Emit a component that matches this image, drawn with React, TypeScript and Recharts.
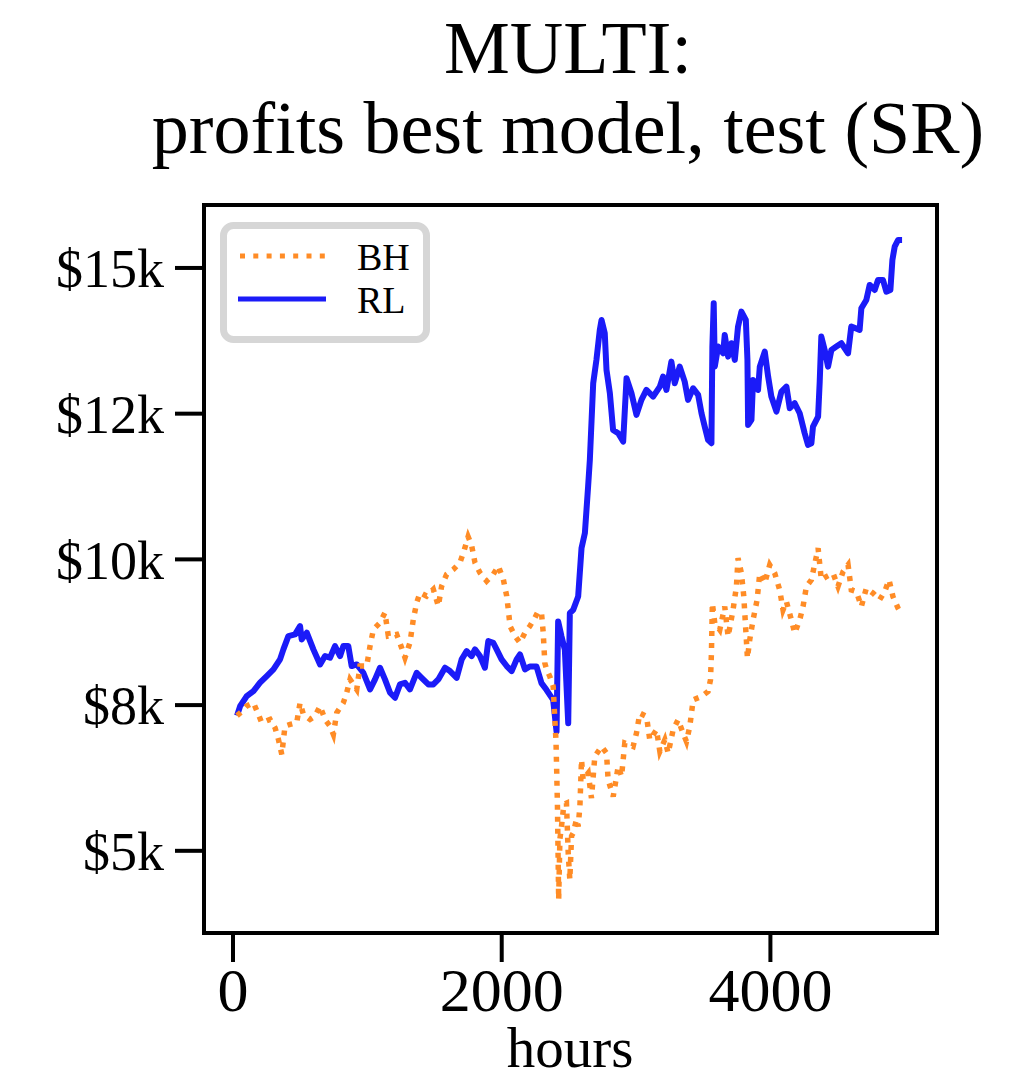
import { LineChart, Line, XAxis, YAxis } from "recharts";

// buy-and-hold (BH) portfolio value
const bhHours = [
  30, 60, 102, 152, 189, 214, 276, 313, 338, 363, 387, 425, 474, 499, 524, 573, 610, 648, 685, 722,
  747, 772, 821, 846, 871, 921, 945, 995, 1020, 1045, 1094, 1131, 1156, 1218, 1255, 1280, 1317, 1342,
  1367, 1392, 1441, 1491, 1528, 1553, 1590, 1640, 1689, 1720, 1750, 1775, 1801, 1838, 1888, 1937,
  1975, 2012, 2037, 2049, 2062, 2099, 2136, 2173, 2210, 2247, 2272, 2297, 2309, 2321, 2334, 2358,
  2383, 2404, 2409, 2415, 2420, 2424, 2433, 2445, 2463, 2482, 2495, 2507, 2520, 2532, 2557, 2569,
  2582, 2594, 2606, 2644, 2668, 2693, 2743, 2780, 2792, 2830, 2867, 2892, 2916, 2978, 3003, 3028,
  3078, 3102, 3152, 3177, 3214, 3239, 3276, 3313, 3350, 3375, 3400, 3425, 3487, 3536, 3554, 3561,
  3568, 3586, 3623, 3660, 3685, 3722, 3747, 3759, 3784, 3802, 3821, 3829, 3846, 3871, 3901, 3921,
  3958, 3995, 4032, 4069, 4094, 4119, 4156, 4181, 4218, 4243, 4268, 4305, 4355, 4379, 4417, 4466,
  4503, 4541, 4578, 4602, 4640, 4677, 4714, 4764, 4813, 4851, 4883, 4912, 4950, 4980,
];
const bhValues = [
  7320, 7380, 7483, 7540, 7340, 7197, 7254, 7111, 6911, 6654, 7140, 7169, 7197, 7540, 7340, 7254,
  7311, 7483, 7254, 7140, 6997, 7369, 7540, 7712, 7941, 7769, 8170, 8170, 8513, 8799, 8913, 9085,
  8685, 8713, 8484, 8313, 8570, 8970, 9256, 9428, 9371, 9485, 9199, 9542, 9743, 9828, 9943, 10150,
  10390, 10250, 9943, 9771, 9628, 9743, 9886, 9657, 9371, 9142, 8856, 8685, 8570, 8742, 8856, 8999,
  9114, 9057, 8742, 8220, 8113, 7991, 7820, 6884, 6398, 5762, 4847, 4161, 5200, 5418, 5800, 5819,
  4961, 4504, 5255, 5304, 5541, 5418, 5762, 6562, 6219, 6333, 5904, 6619, 6791, 6676, 6219, 5933,
  6448, 6276, 6848, 6791, 7019, 7362, 7305, 6905, 7077, 6705, 6905, 6676, 7077, 7248, 7019, 6876,
  7134, 7591, 7648, 7734, 7934, 8391, 9249, 8906, 8791, 9191, 8677, 9134, 9535, 10020, 9763, 9363,
  8620, 8305, 8620, 8963, 9306, 9763, 9592, 9906, 9763, 9477, 9134, 9277, 8963, 8734, 8963, 9191,
  9535, 9649, 10192, 9649, 9706, 9763, 9535, 9792, 9906, 9477, 9449, 9191, 9506, 9420, 9306, 9449,
  9649, 9363, 9163, 9048,
];

// RL agent portfolio value
const rlHours = [
  30, 53, 102, 152, 201, 251, 301, 350, 375, 412, 462, 499, 511, 549, 598, 648, 685, 722, 759, 797,
  821, 858, 883, 921, 970, 1020, 1057, 1094, 1131, 1169, 1206, 1243, 1280, 1317, 1367, 1404, 1454,
  1491, 1528, 1578, 1615, 1665, 1702, 1739, 1776, 1801, 1838, 1875, 1900, 1937, 1962, 1999, 2037,
  2074, 2111, 2136, 2173, 2209, 2259, 2296, 2333, 2383, 2408, 2420, 2445, 2470, 2495, 2507, 2532,
  2569, 2594, 2619, 2643, 2656, 2681, 2705, 2730, 2743, 2767, 2780, 2805, 2829, 2867, 2904, 2929,
  2966, 3003, 3040, 3077, 3127, 3177, 3201, 3226, 3263, 3288, 3325, 3362, 3387, 3425, 3462, 3487,
  3511, 3536, 3561, 3568, 3578, 3586, 3611, 3648, 3660, 3685, 3710, 3735, 3759, 3784, 3817, 3829,
  3834, 3859, 3871, 3908, 3921, 3958, 3983, 4007, 4045, 4082, 4119, 4144, 4181, 4218, 4255, 4280,
  4305, 4317, 4355, 4367, 4379, 4404, 4429, 4454, 4491, 4528, 4578, 4602, 4664, 4677, 4714, 4739,
  4776, 4801, 4838, 4863, 4893, 4908, 4925, 4950, 4980,
];
const rlValues = [
  7320, 7483, 7655, 7741, 7884, 7998, 8112, 8284, 8456, 8684, 8713, 8856, 8627, 8742, 8456, 8198,
  8341, 8313, 8513, 8341, 8513, 8513, 8170, 8198, 8055, 7769, 7941, 8141, 7941, 7712, 7626, 7855,
  7884, 7769, 8055, 7969, 7855, 7855, 7941, 8141, 8084, 7969, 8284, 8427, 8341, 8456, 8341, 8141,
  8599, 8570, 8456, 8284, 8170, 8084, 8284, 8370, 8112, 8162, 8162, 7877, 7762, 7590, 7048, 8934,
  8677, 8448, 7190, 9077, 9134, 9363, 10192, 10449, 11249, 11707, 13022, 13422, 13936, 14108, 13879,
  13250, 12850, 12221, 12164, 12021, 13107, 12850, 12479, 12736, 12907, 12793, 12965, 13136, 12907,
  13393, 13022, 13307, 13050, 12736, 12936, 12822, 12507, 12279, 12050, 11993, 13651, 14394, 13307,
  13651, 13536, 13851, 13479, 13708, 13422, 13994, 14251, 14108, 13422, 12307, 12393, 13079, 12907,
  13307, 13565, 13136, 12793, 12536, 12879, 12965, 12593, 12679, 12507, 12164, 11964, 11993, 12279,
  12450, 13050, 13822, 13594, 13307, 13594, 13651, 13708, 13536, 13994, 13937, 14308, 14451, 14708,
  14622, 14794, 14794, 14594, 14622, 15137, 15365, 15480, 15480,
];

const xTicks = [0, 2000, 4000];
const yTicks = [5000, 7500, 10000, 12500, 15000];
const yTickLabels = ["$5k", "$8k", "$10k", "$12k", "$15k"];
const titleLines = ["MULTI:", "profits best model, test (SR)"];
const seriesNames = ["BH", "RL"];

const bhData = bhHours.map((h, i) => ({ hours: h, value: bhValues[i] }));
const rlData = rlHours.map((h, i) => ({ hours: h, value: rlValues[i] }));

const FONT = '"Liberation Serif", "DejaVu Serif", serif';
const ORANGE = "#ff8c26";
const BLUE = "#1b1bf8";

export default function App() {
  return (
    <div style={{ position: "relative", width: 1032, height: 1080, background: "#fff" }}>
      <style>{"body{margin:0}"}</style>
      <LineChart
        width={1032}
        height={1080}
        margin={{ top: 205, right: 95, bottom: 47, left: 0 }}
      >
        <XAxis
          type="number"
          dataKey="hours"
          domain={[-216, 5240]}
          ticks={xTicks}
          interval={0}
          allowDataOverflow
          height={100}
          axisLine={false}
          tickSize={29}
          tickMargin={5}
          tickLine={{ stroke: "#000", strokeWidth: 4 }}
          tick={{ fontSize: 62, fontFamily: FONT, fill: "#000" }}
        />
        <YAxis
          type="number"
          domain={[3590, 16080]}
          ticks={yTicks}
          interval={0}
          allowDataOverflow
          width={204}
          axisLine={false}
          tickSize={29}
          tickMargin={11}
          tickLine={{ stroke: "#000", strokeWidth: 4 }}
          tick={{ fontSize: 54, fontFamily: FONT, fill: "#000" }}
          tickFormatter={(v: number) => yTickLabels[yTicks.indexOf(v)]}
        />
        <Line
          data={rlData}
          dataKey="value"
          name={seriesNames[1]}
          type="linear"
          stroke={BLUE}
          strokeWidth={6}
          strokeLinejoin="round"
          dot={false}
          isAnimationActive={false}
        />
        <Line
          data={bhData}
          dataKey="value"
          name={seriesNames[0]}
          type="linear"
          stroke={ORANGE}
          strokeWidth={5.5}
          strokeDasharray="5 7"
          dot={false}
          isAnimationActive={false}
        />
      </LineChart>
      <svg
        width={1032}
        height={1080}
        style={{ position: "absolute", left: 0, top: 0, pointerEvents: "none" }}
        fontFamily={FONT}
      >
        <text x={568} y={73} textAnchor="middle" fontSize={74}>
          {titleLines[0]}
        </text>
        <text x={568} y={153} textAnchor="middle" fontSize={74}>
          {titleLines[1]}
        </text>
        <rect x={204} y={205} width={733} height={728} fill="none" stroke="#000" strokeWidth={4} />
        <text x={570} y={1067} textAnchor="middle" fontSize={57}>
          hours
        </text>
        <rect
          x={223.5}
          y={225.5}
          width={203}
          height={114}
          rx={10}
          fill="#fff"
          stroke="#d6d6d6"
          strokeWidth={7}
        />
        <line x1={240} x2={326} y1={256} y2={256} stroke={ORANGE} strokeWidth={5} strokeDasharray="5 8.3" />
        <line x1={238} x2={326} y1={299} y2={299} stroke={BLUE} strokeWidth={5} />
        <text x={357} y={270} fontSize={38}>
          {seriesNames[0]}
        </text>
        <text x={357} y={313} fontSize={38}>
          {seriesNames[1]}
        </text>
      </svg>
    </div>
  );
}
